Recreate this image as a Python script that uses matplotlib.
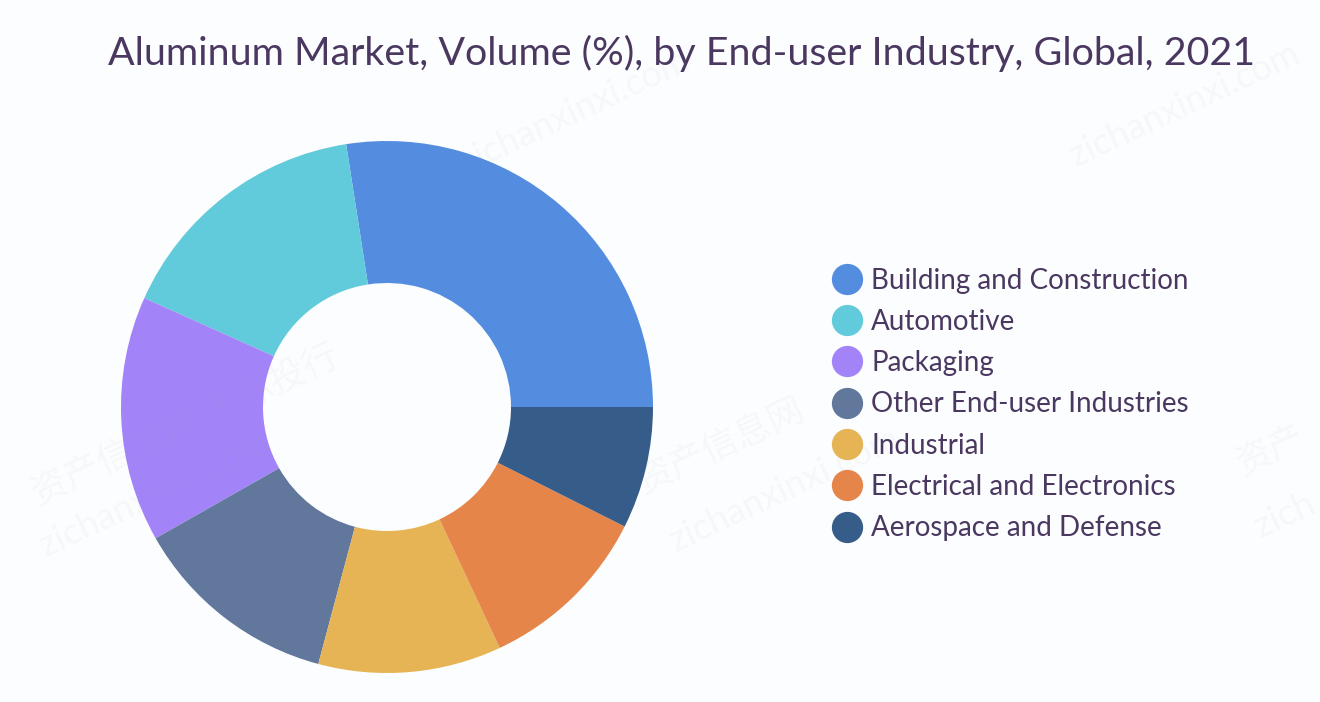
import matplotlib
matplotlib.use("Agg")
import matplotlib.pyplot as plt
from matplotlib.lines import Line2D

# Values
labels = ["Building and Construction", "Automotive", "Packaging", "Other End-user Industries",
          "Industrial", "Electrical and Electronics", "Aerospace and Defense"]
values = [27.4, 15.8, 14.9, 12.6, 11.1, 10.6, 7.4]
colors = ["#548de0", "#61cbdc", "#a384f8", "#62779c", "#e6b454", "#e5854a", "#365c8a"]

title = "Aluminum Market, Volume (%), by End-user Industry, Global, 2021"
W, H = 1320, 702
BG = "#fcfdfe"
INK = "#4a3860"

plt.rcParams["font.family"] = ["Lato", "Noto Sans CJK SC", "DejaVu Sans"]

fig = plt.figure(figsize=(W / 100, H / 100), dpi=100, facecolor=BG)

# Donut, centre (387, 407) and radius 266 in pixels
cx, cy, r, inner = 387, 407, 266, 124
ax = fig.add_axes([(cx - r) / W, 1 - (cy + r) / H, 2 * r / W, 2 * r / H])
ax.pie(values, colors=colors, startangle=0, radius=1,
       wedgeprops={"width": 1 - inner / r, "linewidth": 0})
ax.set_xlim(-1, 1)
ax.set_ylim(-1, 1)
ax.axis("off")
ax.patch.set_alpha(0)

fig.text(108 / W, 1 - 53.5 / H, title, fontsize=28.4, color=INK, ha="left", va="center")

handles = [Line2D([0], [0], marker="o", linestyle="none", markersize=22.5, markerfacecolor=c,
                  markeredgewidth=0, label=l) for c, l in zip(colors, labels)]
leg = fig.legend(handles=handles, loc="center left", bbox_to_anchor=(825 / W, 1 - 404.5 / H),
                 frameon=False, fontsize=20, labelcolor=INK, labelspacing=0.55,
                 handletextpad=0.12, borderpad=0, borderaxespad=0, handlelength=1.55)

# Faint site watermark
marks = [(575, 112, "zichanxinxi.com"), (1185, 105, "zichanxinxi.com"), (155, 495, "zichanxinxi.com"),
         (785, 490, "zichanxinxi.com"), (1285, 515, "zich"),
         (185, 425, "资产信息网 千际投行"), (720, 445, "资产信息网"), (1270, 450, "资产")]
for x, y, s in marks:
    fig.text(x / W, 1 - y / H, s, fontsize=26, color="#8a8fa8", alpha=0.05, rotation=25,
             ha="center", va="center", zorder=5)

fig.savefig("out.png", dpi=100, facecolor=BG)
